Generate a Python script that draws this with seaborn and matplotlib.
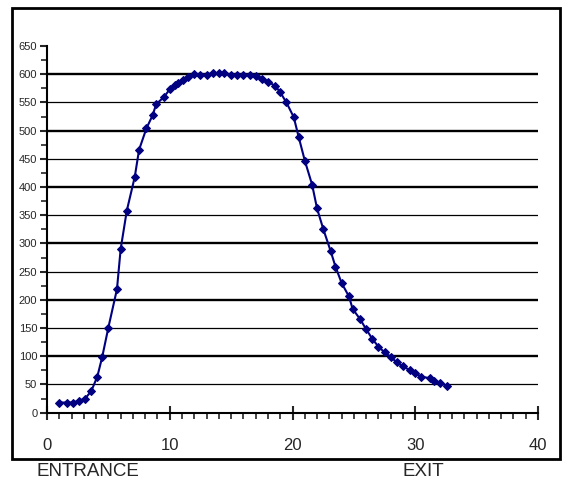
import matplotlib
matplotlib.use("Agg")
import matplotlib.pyplot as plt
from matplotlib.patches import Rectangle
from matplotlib.ticker import MultipleLocator
import pandas as pd
import seaborn as sns

position = [1.0, 1.6, 2.1, 2.6, 3.1, 3.6, 4.1, 4.5, 5.0, 5.7,
            6.0, 6.5, 7.15, 7.5, 8.1, 8.6, 8.9, 9.5, 10.0, 10.4,
            10.7, 11.1, 11.5, 12.0, 12.5, 13.0, 13.5, 14.0, 14.4, 15.0,
            15.5, 16.0, 16.5, 17.0, 17.5, 18.0, 18.6, 19.0, 19.5, 20.1,
            20.5, 21.0, 21.6, 22.0, 22.5, 23.1, 23.5, 24.0, 24.6, 24.9,
            25.5, 26.0, 26.5, 27.0, 27.5, 28.0, 28.5, 29.0, 29.6, 30.0,
            30.5, 31.2, 31.5, 32.0, 32.6]
intensity = [18, 18, 18, 21, 25, 38, 64, 99, 151, 219,
             290, 358, 418, 466, 504, 527, 547, 559, 573, 581,
             585, 590, 595, 600, 599, 599, 602, 602, 602, 599,
             599, 599, 599, 596, 592, 587, 579, 568, 550, 524,
             489, 447, 404, 362, 326, 287, 259, 230, 206, 184,
             166, 148, 131, 117, 107, 99, 89, 82, 75, 70,
             64, 61, 57, 52, 48]

y_ticks = list(range(0, 651, 50))
x_ticks = [0, 10, 20, 30, 40]
left_label = "ENTRANCE"
right_label = "EXIT"

navy = "#000080"


def main():
    sns.set_style("white")
    plt.rcParams["font.family"] = ["Liberation Sans", "DejaVu Sans"]

    fig = plt.figure(figsize=(5.7, 4.9), dpi=100)
    ax = fig.add_axes([47 / 570, 1 - 412.7 / 490,
                       (538 - 47) / 570, (412.7 - 46) / 490])

    # gridlines at every labelled value except the ends, thicker on the hundreds
    for v in y_ticks[1:-1]:
        ax.axhline(v, color="black", lw=1.7 if v % 100 == 0 else 0.9,
                   zorder=1)

    data = pd.DataFrame({"x": position, "y": intensity})
    sns.lineplot(data=data, x="x", y="y", sort=False, estimator=None,
                 color=navy, lw=1.5, marker="D", markersize=4.3,
                 markeredgecolor=navy, ax=ax, zorder=3)

    ax.set_xlim(0, 40)
    ax.set_ylim(0, 650)
    ax.set_xticks(x_ticks)
    ax.set_yticks(y_ticks)
    ax.xaxis.set_minor_locator(MultipleLocator(1))
    ax.yaxis.set_minor_locator(MultipleLocator(25))
    ax.set_xlabel("")
    ax.set_ylabel("")
    ax.grid(False)

    for s in ["top", "right"]:
        ax.spines[s].set_visible(False)
    for s in ["left", "bottom"]:
        ax.spines[s].set_color("black")
        ax.spines[s].set_linewidth(1.5)

    ax.tick_params(axis="y", which="major", direction="out", length=5,
                   width=1.5, labelsize=8, pad=2, left=True)
    ax.tick_params(axis="y", which="minor", direction="out", length=4,
                   width=1.2, left=True)
    ax.tick_params(axis="x", which="major", direction="inout", length=10,
                   width=1.5, labelsize=12, pad=13, bottom=True)
    ax.tick_params(axis="x", which="minor", direction="out", length=4,
                   width=1.2, bottom=True)

    fig.text(36 / 570, 1 - 471 / 490, left_label, fontsize=13.5,
             va="center", ha="left")
    fig.text(403 / 570, 1 - 471 / 490, right_label, fontsize=13.5,
             va="center", ha="left")

    fig.patches.append(Rectangle((12 / 570, 1 - 459 / 490),
                                 (560 - 12) / 570, (459 - 8) / 490,
                                 transform=fig.transFigure, fill=False,
                                 edgecolor="black", lw=2))

    fig.savefig("out.png", dpi=100)


if __name__ == "__main__":
    main()
